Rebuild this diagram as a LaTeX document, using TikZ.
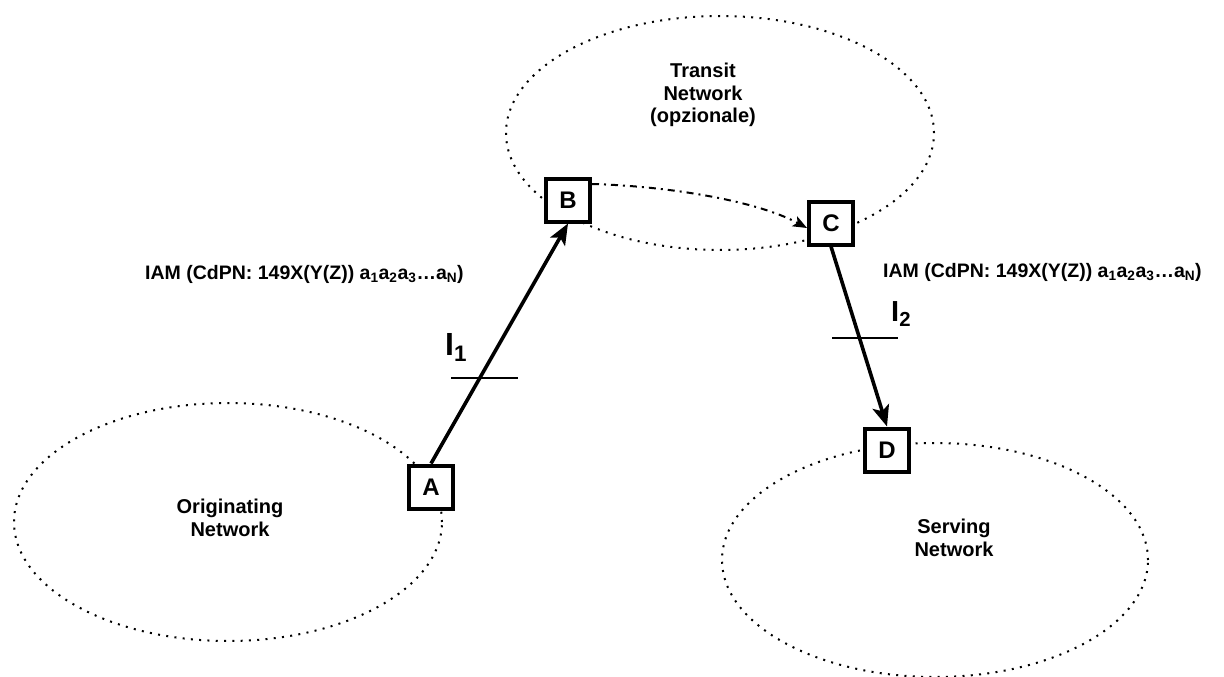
\documentclass[tikz,border=0pt]{standalone}
\usepackage{fontspec}
\setmainfont{Liberation Sans}
\usetikzlibrary{arrows.meta}
\begin{document}
\begin{tikzpicture}[x=1pt,y=-1pt,
  net/.style={draw, line width=2pt, line cap=butt, dash pattern=on 2pt off 6.3pt},
  sw/.style={draw, line width=4pt, fill=white, minimum width=44pt, minimum height=43pt,
    inner sep=0pt, font=\fontsize{24}{28}\selectfont\bfseries},
  link/.style={line width=3.6pt, -{Stealth[length=21pt,width=17pt,inset=5pt]}},
  transfer/.style={line width=2pt, dash pattern=on 7pt off 5pt on 2pt off 5pt,
    -{Stealth[length=14pt,width=11pt,inset=3pt]}},
  tick/.style={line width=1.3pt},
  netlabel/.style={font=\fontsize{20}{22.5}\selectfont\bfseries, align=center, inner sep=0pt},
  msg/.style={font=\fontsize{19.5}{22}\selectfont\bfseries, inner sep=0pt, anchor=base west},
  iface/.style={inner sep=0pt, anchor=base west}
]
\useasboundingbox (0,0) rectangle (1224,677);

% network regions
\draw[net] (720,133) ellipse [x radius=214pt, y radius=117pt];
\draw[net] (228,522) ellipse [x radius=214pt, y radius=119pt];
\draw[net] (935,560) ellipse [x radius=213pt, y radius=117pt];

\node[netlabel] (transit) at (703,95) {Transit\\Network\\(opzionale)};
\node[netlabel] (orig) at (230,518) {Originating\\Network};
\node[netlabel] (serv) at (954,538) {Serving\\Network};

% exchanges
\node[sw] (A) at (431,487) {A};
\node[sw] (B) at (568,200) {B};
\node[sw] (C) at (831,223) {C};
\node[sw] (D) at (887,450) {D};

% signalling
\draw[link] (A.north) -- (B.south);
\draw[link] (C.south) -- (D.north);
\draw[transfer] ([yshift=16pt]B.east) .. controls (665,186) and (755,200) .. ([yshift=-5pt]C.west);

% interface marks
\draw[tick] (451,378) -- (518,378);
\draw[tick] (832,338) -- (898,338);
\node[iface, font=\fontsize{32}{36}\selectfont\bfseries] (i1) at (445,355) {I\textsubscript{1}};
\node[iface, font=\fontsize{29}{33}\selectfont\bfseries] (i2) at (891,321) {I\textsubscript{2}};

% messages
\node[msg] (iamL) at (145,279) {IAM (CdPN: 149X(Y(Z)) a\textsubscript{1}a\textsubscript{2}a\textsubscript{3}…a\textsubscript{N})};
\node[msg] (iamR) at (883,277) {IAM (CdPN: 149X(Y(Z)) a\textsubscript{1}a\textsubscript{2}a\textsubscript{3}…a\textsubscript{N})};
\end{tikzpicture}
\end{document}
